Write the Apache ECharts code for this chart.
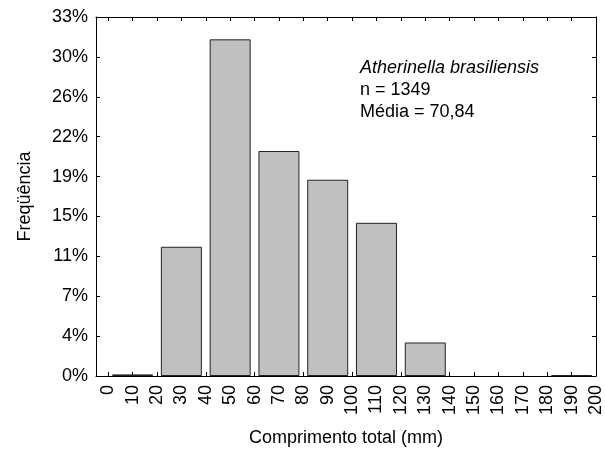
<!DOCTYPE html>
<html>
<head>
<meta charset="utf-8">
<script src="https://cdn.jsdelivr.net/npm/echarts@6/dist/echarts.min.js"></script>
<style>
  html, body { margin: 0; padding: 0; background: #fff; }
  #chart { width: 605px; height: 456px; }
</style>
</head>
<body>
<div id="chart"></div>
<script>
// Length-frequency histogram, 20 mm classes
const binMidpoints = [10, 30, 50, 70, 90, 110, 130, 190];
const binCounts = [2, 162, 422, 282, 246, 192, 42, 1];
const totalN = 1349;

// Axis ticks
const xTickValues = [0, 10, 20, 30, 40, 50, 60, 70, 80, 90, 100, 110, 120, 130, 140, 150, 160, 170, 180, 190, 200];
const yTickCounts = [0, 50, 100, 150, 200, 250, 300, 350, 400, 450];
const yTickLabels = ['0%', '4%', '7%', '11%', '15%', '19%', '22%', '26%', '30%', '33%'];

const annotationLines = ['Atherinella brasiliensis', 'n = 1349', 'Média = 70,84'];

const FONT = '"Liberation Sans", Arial, Helvetica, sans-serif';
const chart = echarts.init(document.getElementById('chart'), null, { renderer: 'canvas' });

const frameLine = { show: true, onZero: false, lineStyle: { color: '#000', width: 1 } };
const inTick = { show: true, inside: true, length: 4, lineStyle: { color: '#000', width: 1 } };

chart.setOption({
  animation: false,
  backgroundColor: '#fff',
  grid: { left: 96, right: 6, top: 17, bottom: 80, containLabel: false },
  textStyle: { fontFamily: FONT },
  xAxis: [
    {
      type: 'value', min: -5, max: 200, position: 'bottom',
      axisLine: frameLine,
      axisTick: Object.assign({ customValues: xTickValues }, inTick),
      axisLabel: {
        customValues: xTickValues, rotate: 90, margin: 9,
        color: '#000', fontSize: 18, fontFamily: FONT
      },
      splitLine: { show: false },
      name: 'Comprimento total (mm)', nameLocation: 'middle', nameGap: 53,
      nameTextStyle: { color: '#000', fontSize: 18, fontFamily: FONT }
    },
    {
      type: 'value', min: -5, max: 200, position: 'top',
      axisLine: frameLine,
      axisTick: Object.assign({ customValues: xTickValues }, inTick),
      axisLabel: { show: false },
      splitLine: { show: false }
    }
  ],
  yAxis: [
    {
      type: 'value', min: 0, max: 450, interval: 50, position: 'left',
      axisLine: frameLine,
      axisTick: inTick,
      axisLabel: {
        color: '#000', fontSize: 18, fontFamily: FONT, margin: 8,
        formatter: v => yTickLabels[yTickCounts.indexOf(v)]
      },
      splitLine: { show: false },
      name: 'Freqüência', nameLocation: 'middle', nameGap: 62, nameRotate: 90,
      nameTextStyle: { color: '#000', fontSize: 18, fontFamily: FONT }
    },
    {
      type: 'value', min: 0, max: 450, interval: 50, position: 'right',
      axisLine: frameLine,
      axisTick: inTick,
      axisLabel: { show: false },
      splitLine: { show: false }
    }
  ],
  graphic: annotationLines.map((t, i) => ({
    type: 'text', left: 360, top: 59 + i * 22,
    style: {
      text: t, fill: '#000', font: (i === 0 ? 'italic ' : '') + '18px ' + FONT
    }
  })),
  series: [{
    type: 'bar',
    xAxisIndex: 0, yAxisIndex: 0,
    data: binMidpoints.map((m, i) => [m, binCounts[i]]),
    barWidth: 41,
    itemStyle: { color: '#c0c0c0', borderColor: '#222', borderWidth: 1 }
  }]
});
</script>
</body>
</html>
